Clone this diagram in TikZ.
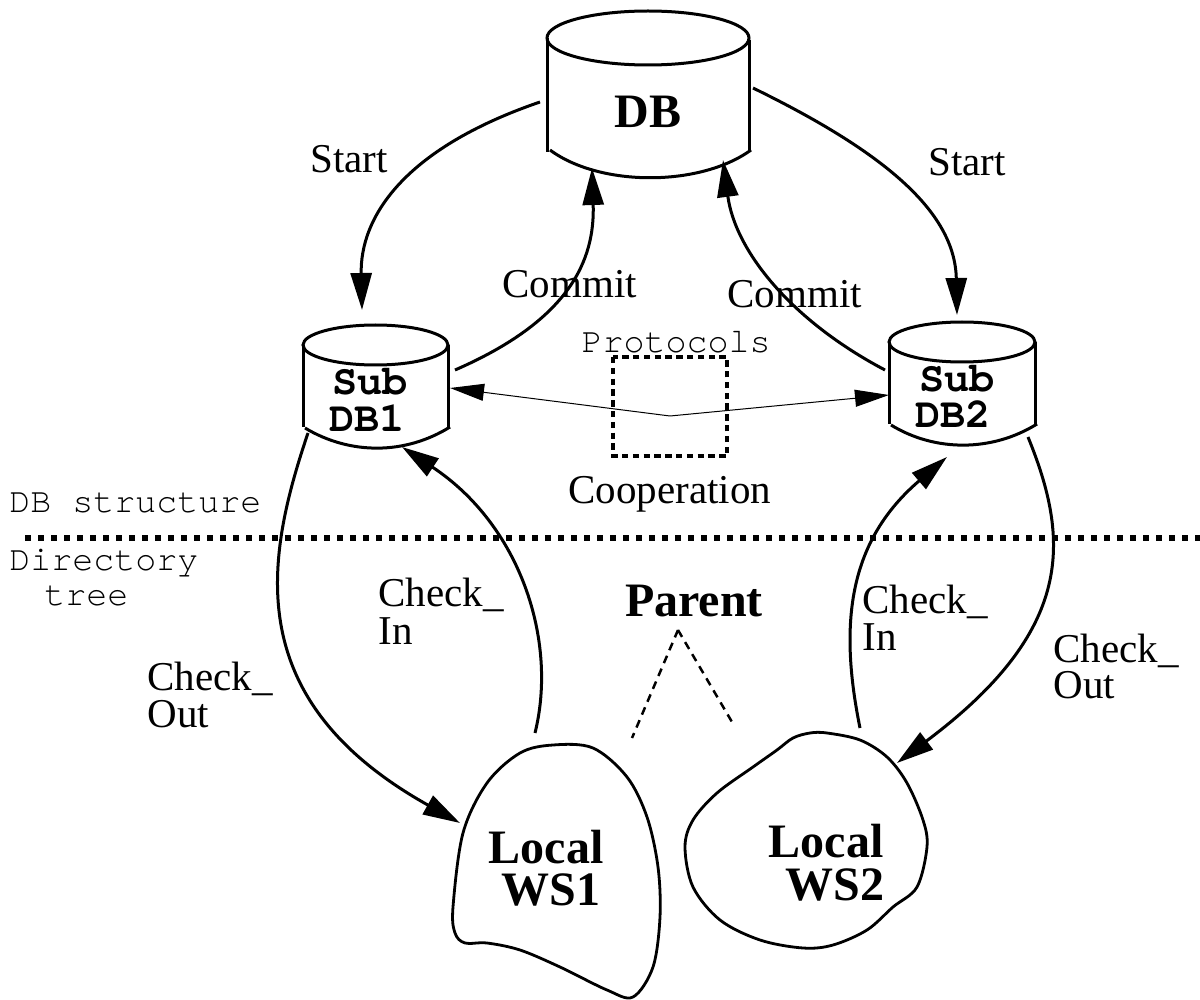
\documentclass[tikz,border=0pt]{standalone}
\usepackage{fontspec}
\setmainfont{Liberation Serif}
\setmonofont{TeX Gyre Cursor}
\usetikzlibrary{arrows.meta}
\begin{document}
\begin{tikzpicture}[x=0.5pt,y=-0.5pt,
  outline/.style={line width=1.5pt},
  flow/.style={line width=1.5pt,-{Triangle[length=18.5pt,width=10.5pt]}},
  thinarrow/.style={line width=0.5pt,-{Triangle[length=17pt,width=8.5pt]}},
  lbl/.style={inner sep=0pt,anchor=base west,font=\fontsize{20.5}{24}\selectfont},
  boldlbl/.style={inner sep=0pt,anchor=base,font=\fontsize{24}{28}\selectfont\bfseries},
  monolbl/.style={inner sep=0pt,anchor=base west,font=\fontsize{17.5}{21}\selectfont\ttfamily},
  monobold/.style={inner sep=0pt,anchor=base,font=\fontsize{21}{25}\selectfont\ttfamily\bfseries},
  blob/.style={line width=1.4pt,line join=round}]
\useasboundingbox (0,0) rectangle (1200,1000);

% ---- main database cylinder
\draw[outline] (648,38) ellipse [x radius=50.5pt,y radius=13.5pt];
\draw[outline] (547,38) -- (547,152);
\draw[outline] (749,40) -- (749,152);
\draw[outline] (550,150) .. controls (600,187) and (700,187) .. (751,150);
\node[boldlbl] (db) at (648,128) {DB};

% ---- sub database 1
\draw[outline] (375.5,345) ellipse [x radius=36.25pt,y radius=10pt];
\draw[outline] (303,345) -- (303,427);
\draw[outline] (448,345) -- (448,427);
\draw[outline] (305,428) .. controls (350,455) and (405,455) .. (450,427);
\node[monobold] (sub1a) at (370,394) {Sub};
\node[monobold] (sub1b) at (367,431) {DB1};

% ---- sub database 2
\draw[outline] (962,342) ellipse [x radius=36.5pt,y radius=10pt];
\draw[outline] (889,342) -- (889,424);
\draw[outline] (1035,342) -- (1035,424);
\draw[outline] (891,425) .. controls (935,452) and (992,452) .. (1037,424);
\node[monobold] (sub2a) at (957,392) {Sub};
\node[monobold] (sub2b) at (953,428) {DB2};

% ---- local workspaces
\draw[blob] plot[smooth cycle,tension=0.55] coordinates {
  (553,745) (593,748) (627,777) (647,817) (658,867) (660,917) (653,967)
  (633,997) (607,990) (560,967) (520,950) (487,943) (465,943) (455,933)
  (453,907) (463,833) (487,783) (520,753)};
\node[boldlbl] (ws1a) at (546,863) {Local};
\node[boldlbl] (ws1b) at (551,905) {WS1};

\draw[blob] plot[smooth cycle,tension=0.55] coordinates {
  (827,733) (860,740) (887,757) (907,783) (923,820) (927,847) (917,887)
  (893,907) (867,930) (833,945) (803,948) (760,940) (720,920) (693,887)
  (685,847) (693,820) (717,793) (753,767) (777,750) (793,738) (810,733)};
\node[boldlbl] (ws2a) at (826,857) {Local};
\node[boldlbl] (ws2b) at (835,900) {WS2};

% ---- connector end points on the shapes
\coordinate (db-w)  at (540,102);
\coordinate (db-e)  at (753,88);
\coordinate (db-s1) at (592,168);
\coordinate (db-s2) at (723,160);
\coordinate (s1-n)  at (362,310);
\coordinate (s1-e)  at (455,370);
\coordinate (s1-p)  at (450,388);
\coordinate (s1-sw) at (308,433);
\coordinate (s1-s)  at (402,447);
\coordinate (s2-n)  at (957,315);
\coordinate (s2-w)  at (885,370);
\coordinate (s2-p)  at (889,395);
\coordinate (s2-se) at (1028,437);
\coordinate (s2-s)  at (947,457);
\coordinate (ws1-n) at (535,733);
\coordinate (ws1-w) at (460,823);
\coordinate (ws2-n) at (860,728);
\coordinate (ws2-e) at (897,763);
\coordinate (coop)  at (670,416);

% ---- start / commit between DB and sub databases
\draw[flow] (db-w) .. controls (400,150) and (360,220) .. (s1-n);
\draw[flow] (s1-e) .. controls (570,320) and (595,260) .. (db-s1);
\draw[flow] (s2-w) .. controls (790,320) and (735,250) .. (db-s2);
\draw[flow] (db-e) .. controls (880,150) and (955,210) .. (s2-n);
\node[lbl] (startL)  at (310,173) {Start};
\node[lbl] (startR)  at (928,176) {Start};
\node[lbl] (commitL) at (502,298) {Commit};
\node[lbl] (commitR) at (727,307) {Commit};

% ---- cooperation protocols
\draw[line width=1.6pt,dash pattern=on 3.2pt off 2.2pt] (613,357) rectangle (727,456);
\node[monolbl,anchor=base] (proto) at (676,353) {Protocols};
\node[lbl] (coopl) at (568,503) {Cooperation};
\draw[thinarrow] (coop) -- (s1-p);
\draw[thinarrow] (coop) -- (s2-p);

% ---- separator between the two levels
\draw[line width=2.8pt,dash pattern=on 2.8pt off 3.7pt] (25,538) -- (1200,538);
\node[monolbl] (dbstruct) at (9,512) {DB structure};
\node[monolbl] (dirtree1) at (9,570) {Directory};
\node[monolbl] (dirtree2) at (44,605) {tree};

% ---- check out / check in
\draw[flow] (s1-sw) .. controls (265,560) and (240,700) .. (ws1-w);
\draw[flow] (ws1-n) .. controls (558,640) and (520,525) .. (s1-s);
\draw[flow] (ws2-n) .. controls (838,620) and (850,540) .. (s2-s);
\draw[flow] (s2-se) .. controls (1070,540) and (1075,630) .. (ws2-e);
\node[lbl] (ciL1) at (378,606) {Check\_};
\node[lbl] (ciL2) at (378,644) {In};
\node[lbl] (coL1) at (147,690) {Check\_};
\node[lbl] (coL2) at (147,727) {Out};
\node[lbl] (ciR1) at (862,613) {Check\_};
\node[lbl] (ciR2) at (862,650) {In};
\node[lbl] (coR1) at (1053,662) {Check\_};
\node[lbl] (coR2) at (1053,698) {Out};

% ---- parent of the workspaces
\node[boldlbl] (parent) at (694,616) {Parent};
\coordinate (par-l) at (632,738);
\coordinate (par-r) at (732,722);
\coordinate (par-t) at (678,630);
\draw[line width=1.25pt,dash pattern=on 4pt off 3pt] (par-t) -- (par-l);
\draw[line width=1.25pt,dash pattern=on 4pt off 3pt] (par-t) -- (par-r);
\end{tikzpicture}
\end{document}
